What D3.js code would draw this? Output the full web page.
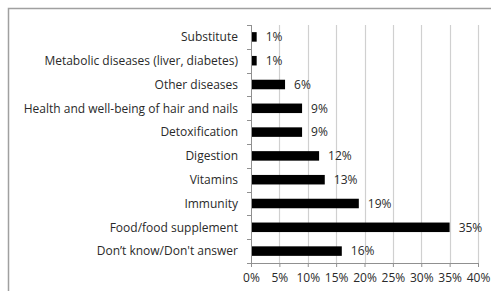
<!DOCTYPE html>
<html>
<head>
<meta charset="utf-8">
<script src="https://cdn.jsdelivr.net/npm/d3@7"></script>
<style>
  body { margin: 0; background: #fff; }
  svg text { font-family: "Open Sans", sans-serif; }
</style>
</head>
<body>
<div id="chart"></div>
<script>
// categories, top to bottom, and their shares (%)
var categories = ["Substitute", "Metabolic diseases (liver, diabetes)", "Other diseases",
  "Health and well-being of hair and nails", "Detoxification", "Digestion", "Vitamins",
  "Immunity", "Food/food supplement", "Don\u2019t know/Don't answer"];
var values = [1, 1, 6, 9, 9, 12, 13, 19, 35, 16];
var xTicks = [0, 5, 10, 15, 20, 25, 30, 35, 40];

var svgWidth = 491, svgHeight = 291;
var margin = {top: 25, right: 13, bottom: 28, left: 251};
var width = svgWidth - margin.left - margin.right;
var height = svgHeight - margin.top - margin.bottom;
var textColor = "#2a2a2a";

var svg = d3.select("#chart").append("svg")
  .attr("width", svgWidth)
  .attr("height", svgHeight);

// outer frame
svg.append("rect")
  .attr("x", 8.5).attr("y", 8.5)
  .attr("width", svgWidth).attr("height", svgHeight)
  .attr("fill", "none").attr("stroke", "#a0a0a0").attr("stroke-width", 1.5);

var chartGroup = svg.append("g")
  .attr("transform", `translate(${margin.left}, ${margin.top})`);

var x = d3.scaleLinear().domain([0, 40]).range([0, width]);
var y = d3.scaleBand().domain(categories).range([0, height]).paddingInner(0.6).paddingOuter(0.3);

// gridlines
chartGroup.selectAll(".grid").data(xTicks.slice(1)).enter().append("line")
  .attr("x1", d => Math.round(x(d)) + 0.5).attr("x2", d => Math.round(x(d)) + 0.5)
  .attr("y1", 0).attr("y2", height)
  .attr("stroke", "#d0d0d0").attr("stroke-width", 1.2);

// bars
chartGroup.selectAll(".bar").data(values).enter().append("rect")
  .attr("x", 0)
  .attr("y", (d, i) => y(categories[i]))
  .attr("width", d => x(d))
  .attr("height", y.bandwidth())
  .attr("fill", "#000");

// value labels
chartGroup.selectAll(".val").data(values).enter().append("text")
  .attr("x", d => x(d) + 9)
  .attr("y", (d, i) => y(categories[i]) + y.bandwidth() / 2)
  .attr("dy", "0.36em")
  .attr("font-size", 12)
  .attr("fill", textColor)
  .text(d => d + "%");

// x axis
var bottomAxis = d3.axisBottom(x).tickValues(xTicks).tickFormat(d => d + "%").tickSize(4).tickPadding(6);
var xg = chartGroup.append("g").attr("transform", `translate(0, ${height})`).call(bottomAxis);
xg.select(".domain").attr("stroke", "#909090");
xg.selectAll(".tick line").attr("stroke", "#909090");
xg.selectAll("text").attr("font-size", 12).attr("fill", textColor).attr("font-family", "Open Sans, sans-serif");

// y axis: line plus ticks at category boundaries
chartGroup.append("line")
  .attr("x1", 0.5).attr("x2", 0.5).attr("y1", 0).attr("y2", height)
  .attr("stroke", "#909090");
var step = height / categories.length;
chartGroup.selectAll(".ytick").data(d3.range(categories.length + 1)).enter().append("line")
  .attr("x1", -4).attr("x2", 0)
  .attr("y1", d => Math.round(d * step) + 0.5).attr("y2", d => Math.round(d * step) + 0.5)
  .attr("stroke", "#909090");

chartGroup.selectAll(".cat").data(categories).enter().append("text")
  .attr("x", -13)
  .attr("y", d => y(d) + y.bandwidth() / 2)
  .attr("dy", "0.36em")
  .attr("text-anchor", "end")
  .attr("font-size", 12)
  .attr("fill", textColor)
  .text(d => d);
</script>
</body>
</html>
